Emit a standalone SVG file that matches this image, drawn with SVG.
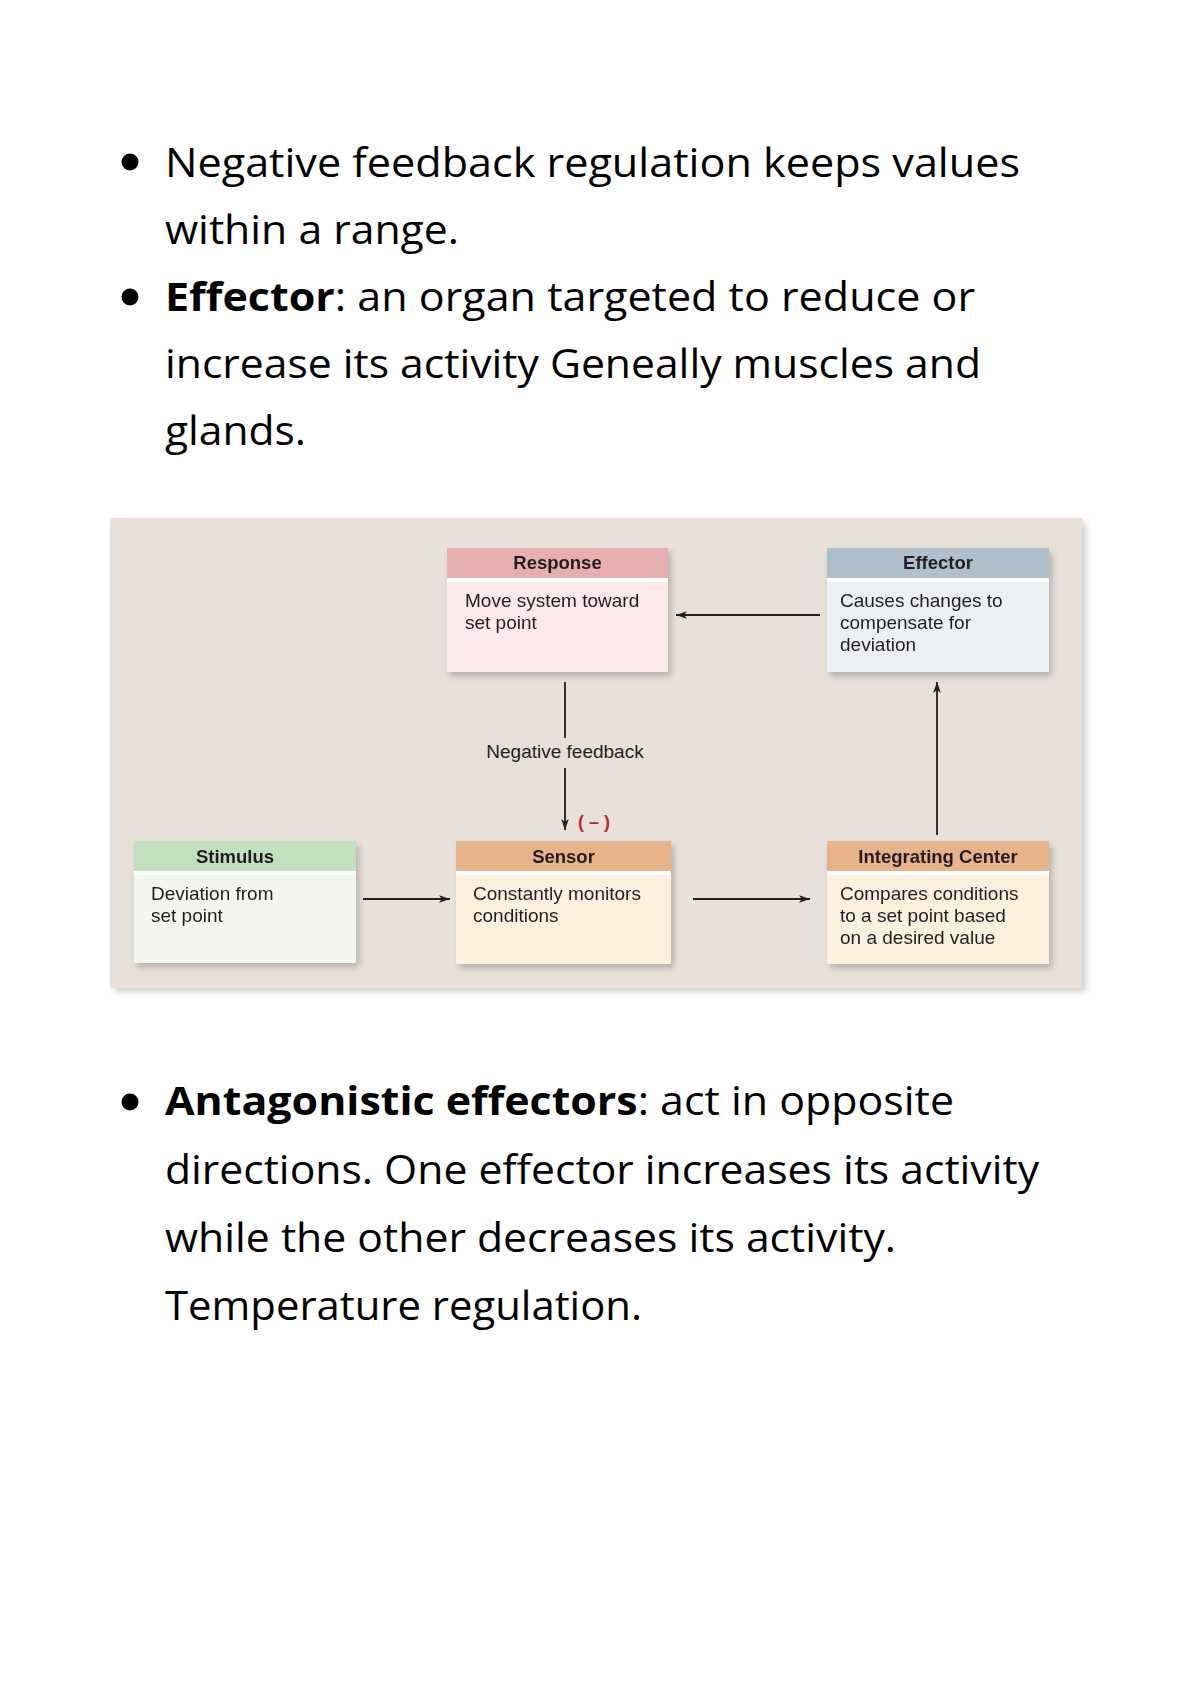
<svg xmlns="http://www.w3.org/2000/svg" width="1200" height="1698" viewBox="0 0 1200 1698">
<defs>
<filter id="sh" x="-10%" y="-10%" width="130%" height="130%">
<feDropShadow dx="3" dy="4" stdDeviation="3" flood-color="#000" flood-opacity="0.22"/>
</filter>
<filter id="psh" x="-5%" y="-5%" width="110%" height="115%">
<feDropShadow dx="4" dy="4" stdDeviation="3" flood-color="#000" flood-opacity="0.18"/>
</filter>
<marker id="ah" viewBox="0 0 10 10" refX="10" refY="5" markerWidth="6" markerHeight="6" orient="auto" markerUnits="userSpaceOnUse">
<path d="M0,1 L10,5 L0,9 L2,5 Z" fill="#231f20"/>
</marker>
<marker id="ah2" viewBox="0 0 10 10" refX="10" refY="5" markerWidth="11" markerHeight="11" orient="auto" markerUnits="userSpaceOnUse">
<path d="M0,1.5 L10,5 L0,8.5 L2.5,5 Z" fill="#231f20"/>
</marker>
</defs>
<style>
.big{font-family:"Open Sans","Noto Sans","Liberation Sans",sans-serif;font-size:40px;fill:#000}
.b{font-weight:bold}
.hd{font-family:"Liberation Sans",Arial,sans-serif;font-size:18.5px;font-weight:bold;fill:#231f20;text-anchor:middle}
.bd{font-family:"Liberation Sans",Arial,sans-serif;font-size:19px;fill:#231f20}
.gap{fill:#ffffff}
.conn{stroke:#231f20;stroke-width:1.8;fill:none}
</style>
<rect width="1200" height="1698" fill="#ffffff"/>

<g id="text-top">
<circle cx="130" cy="162" r="8.5" fill="#000"/>
<text class="big" x="165" y="177" textLength="855" lengthAdjust="spacingAndGlyphs">Negative feedback regulation keeps values</text>
<text class="big" x="165" y="244" textLength="294" lengthAdjust="spacingAndGlyphs">within a range.</text>
<circle cx="130" cy="297" r="8.5" fill="#000"/>
<text class="big" x="165" y="311" textLength="810" lengthAdjust="spacingAndGlyphs"><tspan class="b">Effector</tspan>: an organ targeted to reduce or</text>
<text class="big" x="165" y="378" textLength="816" lengthAdjust="spacingAndGlyphs">increase its activity Geneally muscles and</text>
<text class="big" x="165" y="445" textLength="141" lengthAdjust="spacingAndGlyphs">glands.</text>
</g>

<g id="panel">
<rect x="110" y="518" width="972" height="470" fill="#e8e1da" filter="url(#psh)"/>
</g>

<g id="node-response" filter="url(#sh)">
<rect x="447" y="548" width="221" height="124" fill="#fce9e9"/>
<rect x="447" y="548" width="221" height="30" fill="#e6afaf"/>
<rect class="gap" x="447" y="578" width="221" height="4"/>
<text class="hd" x="557.5" y="569">Response</text>
<text class="bd" x="465" y="607">Move system toward</text>
<text class="bd" x="465" y="629">set point</text>
</g>

<g id="node-effector" filter="url(#sh)">
<rect x="827" y="548" width="222" height="124" fill="#ecf0f4"/>
<rect x="827" y="548" width="222" height="30" fill="#afbfcc"/>
<rect class="gap" x="827" y="578" width="222" height="4"/>
<text class="hd" x="938" y="569">Effector</text>
<text class="bd" x="840" y="607">Causes changes to</text>
<text class="bd" x="840" y="629">compensate for</text>
<text class="bd" x="840" y="651">deviation</text>
</g>

<g id="node-stimulus" filter="url(#sh)">
<rect x="134" y="841" width="222" height="122" fill="#f3f6ef"/>
<rect x="134" y="841" width="222" height="30" fill="#c0e0c0"/>
<rect class="gap" x="134" y="871" width="222" height="4"/>
<text class="hd" x="235" y="863">Stimulus</text>
<text class="bd" x="151" y="900">Deviation from</text>
<text class="bd" x="151" y="922">set point</text>
</g>

<g id="node-sensor" filter="url(#sh)">
<rect x="456" y="841" width="215" height="123" fill="#fdf0df"/>
<rect x="456" y="841" width="215" height="30" fill="#e6b38a"/>
<rect class="gap" x="456" y="871" width="215" height="4"/>
<text class="hd" x="563.5" y="863">Sensor</text>
<text class="bd" x="473" y="900">Constantly monitors</text>
<text class="bd" x="473" y="922">conditions</text>
</g>

<g id="node-integrating" filter="url(#sh)">
<rect x="827" y="841" width="222" height="123" fill="#fdf0df"/>
<rect x="827" y="841" width="222" height="30" fill="#e6b38a"/>
<rect class="gap" x="827" y="871" width="222" height="4"/>
<text class="hd" x="938" y="863">Integrating Center</text>
<text class="bd" x="840" y="900">Compares conditions</text>
<text class="bd" x="840" y="922">to a set point based</text>
<text class="bd" x="840" y="944">on a desired value</text>
</g>

<g id="connectors">
<line class="conn" x1="820" y1="615" x2="676" y2="615" marker-end="url(#ah2)"/>
<line class="conn" x1="565" y1="682" x2="565" y2="738"/>
<text class="bd" x="565" y="758" text-anchor="middle">Negative feedback</text>
<line class="conn" x1="565" y1="768" x2="565" y2="830" marker-end="url(#ah2)"/>
<text x="594" y="828" text-anchor="middle" font-family="Liberation Sans, Arial, sans-serif" font-size="18" font-weight="bold" fill="#c1272d">( – )</text>
<line class="conn" x1="363" y1="899" x2="450" y2="899" marker-end="url(#ah2)"/>
<line class="conn" x1="693" y1="899" x2="810" y2="899" marker-end="url(#ah2)"/>
<line class="conn" x1="937" y1="835" x2="937" y2="682" marker-end="url(#ah2)"/>
</g>

<g id="text-bottom">
<circle cx="130" cy="1102" r="8.5" fill="#000"/>
<text class="big" x="165" y="1115" textLength="789" lengthAdjust="spacingAndGlyphs"><tspan class="b">Antagonistic effectors</tspan>: act in opposite</text>
<text class="big" x="165" y="1184" textLength="874" lengthAdjust="spacingAndGlyphs">directions. One effector increases its activity</text>
<text class="big" x="165" y="1252" textLength="731" lengthAdjust="spacingAndGlyphs">while the other decreases its activity.</text>
<text class="big" x="165" y="1320" textLength="477" lengthAdjust="spacingAndGlyphs">Temperature regulation.</text>
</g>
</svg>
